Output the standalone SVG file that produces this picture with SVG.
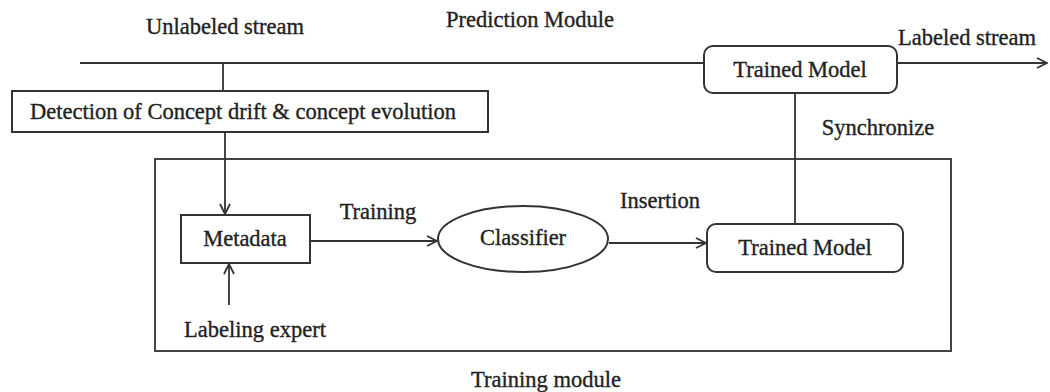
<svg xmlns="http://www.w3.org/2000/svg" width="1050" height="392" viewBox="0 0 1050 392">
  <style>
    .box { fill: #fff; stroke: #333; stroke-width: 2; }
    .frame { fill: none; stroke: #444; stroke-width: 2; }
    .line { fill: none; stroke: #333; stroke-width: 1.8; }
    .lbl { font-family: "Liberation Serif", "Times New Roman", serif; font-size: 22.5px; fill: #222; stroke: #222; stroke-width: 0.35; text-anchor: middle; }
  </style>
  <defs>
    <marker id="open" viewBox="0 0 12 12" refX="11" refY="6" markerWidth="12" markerHeight="12" markerUnits="userSpaceOnUse" orient="auto">
      <path d="M1,1 L11,6 L1,11" fill="none" stroke="#333" stroke-width="1.8"/>
    </marker>
  </defs>
  <rect width="1050" height="392" fill="#fff"/>

  <!-- training module frame -->
  <g id="training-module">
    <rect class="frame" x="155" y="159" width="796" height="192"/>
    <text class="lbl" x="546" y="387">Training module</text>
  </g>

  <!-- connectors -->
  <g id="connectors">
    <line class="line" x1="80" y1="63" x2="704" y2="63"/>
    <line class="line" x1="897" y1="63" x2="1047" y2="63" marker-end="url(#open)"/>
    <line class="line" x1="223" y1="63" x2="223" y2="91"/>
    <line class="line" x1="225" y1="132" x2="225" y2="214" marker-end="url(#open)"/>
    <line class="line" x1="229" y1="305" x2="229" y2="264" marker-end="url(#open)"/>
    <line class="line" x1="310" y1="241" x2="437" y2="241" marker-end="url(#open)"/>
    <line class="line" x1="609" y1="243" x2="706" y2="243" marker-end="url(#open)"/>
    <line class="line" x1="795" y1="93" x2="795" y2="224"/>
  </g>

  <g id="free-labels">
    <text class="lbl" x="225" y="34">Unlabeled stream</text>
    <text class="lbl" x="530" y="27">Prediction Module</text>
    <text class="lbl" x="967" y="45">Labeled stream</text>
    <text class="lbl" x="878" y="135">Synchronize</text>
    <text class="lbl" x="378" y="219">Training</text>
    <text class="lbl" x="660" y="208">Insertion</text>
    <text class="lbl" x="255" y="337">Labeling expert</text>
  </g>

  <g id="detection">
    <rect class="box" x="12" y="91" width="476" height="41"/>
    <text class="lbl" x="243" y="119">Detection of Concept drift &amp; concept evolution</text>
  </g>

  <g id="trained-model-top">
    <rect class="box" x="704" y="46" width="193" height="47" rx="9"/>
    <text class="lbl" x="800" y="77">Trained Model</text>
  </g>

  <g id="metadata">
    <rect class="box" x="181" y="215" width="129" height="48"/>
    <text class="lbl" x="245" y="246">Metadata</text>
  </g>

  <g id="classifier">
    <ellipse class="box" cx="523" cy="239" rx="85" ry="33"/>
    <text class="lbl" x="523" y="245">Classifier</text>
  </g>

  <g id="trained-model-bottom">
    <rect class="box" x="707" y="224" width="196" height="48" rx="9"/>
    <text class="lbl" x="805" y="255">Trained Model</text>
  </g>
</svg>
